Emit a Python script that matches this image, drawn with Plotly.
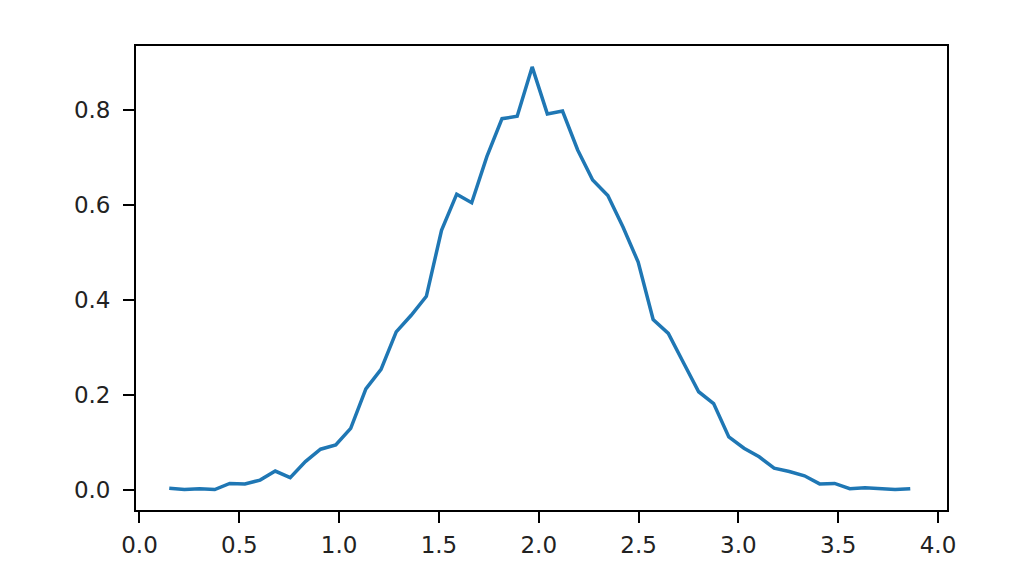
import plotly.graph_objects as go

x_values = [0.149, 0.225, 0.301, 0.377, 0.452, 0.528, 0.604, 0.680, 0.755, 0.831,
            0.907, 0.983, 1.058, 1.134, 1.210, 1.286, 1.361, 1.437, 1.513, 1.589,
            1.664, 1.740, 1.816, 1.892, 1.967, 2.043, 2.119, 2.195, 2.270, 2.346,
            2.422, 2.498, 2.573, 2.649, 2.725, 2.801, 2.876, 2.952, 3.028, 3.104,
            3.179, 3.255, 3.331, 3.407, 3.482, 3.558, 3.634, 3.710, 3.785, 3.861]
y_values = [0.004, 0.001, 0.003, 0.001, 0.014, 0.013, 0.021, 0.040, 0.026, 0.060,
            0.086, 0.095, 0.130, 0.213, 0.254, 0.333, 0.368, 0.408, 0.547, 0.623,
            0.605, 0.702, 0.782, 0.787, 0.891, 0.792, 0.798, 0.716, 0.653, 0.620,
            0.554, 0.480, 0.359, 0.330, 0.268, 0.207, 0.182, 0.112, 0.088, 0.070,
            0.046, 0.039, 0.030, 0.013, 0.014, 0.003, 0.005, 0.003, 0.001, 0.003]

x_ticks = [0.0, 0.5, 1.0, 1.5, 2.0, 2.5, 3.0, 3.5, 4.0]
y_ticks = [0.0, 0.2, 0.4, 0.6, 0.8]

fig = go.Figure()
fig.add_trace(go.Scatter(x=x_values, y=y_values, mode="lines",
                         line=dict(color="#1f77b4", width=3.5)))

axis_common = dict(showgrid=False, zeroline=False, showline=True, linecolor="black",
                   linewidth=1.8, mirror=True, ticks="outside", ticklen=11,
                   tickwidth=1.8, tickcolor="black",
                   tickfont=dict(family="DejaVu Sans", size=23, color="#222222"))

fig.update_xaxes(range=[-0.0175, 4.045], tickvals=x_ticks,
                 ticktext=[f"{v:.1f}" for v in x_ticks], ticklabelstandoff=2,
                 **axis_common)
fig.update_yaxes(range=[-0.042, 0.935], tickvals=y_ticks,
                 ticktext=[f"{v:.1f}" for v in y_ticks], ticklabelstandoff=8,
                 **axis_common)

fig.update_layout(width=1022, height=588, showlegend=False,
                  plot_bgcolor="white", paper_bgcolor="white",
                  margin=dict(l=128, r=83, t=38, b=86))

fig.write_html("out.html")
